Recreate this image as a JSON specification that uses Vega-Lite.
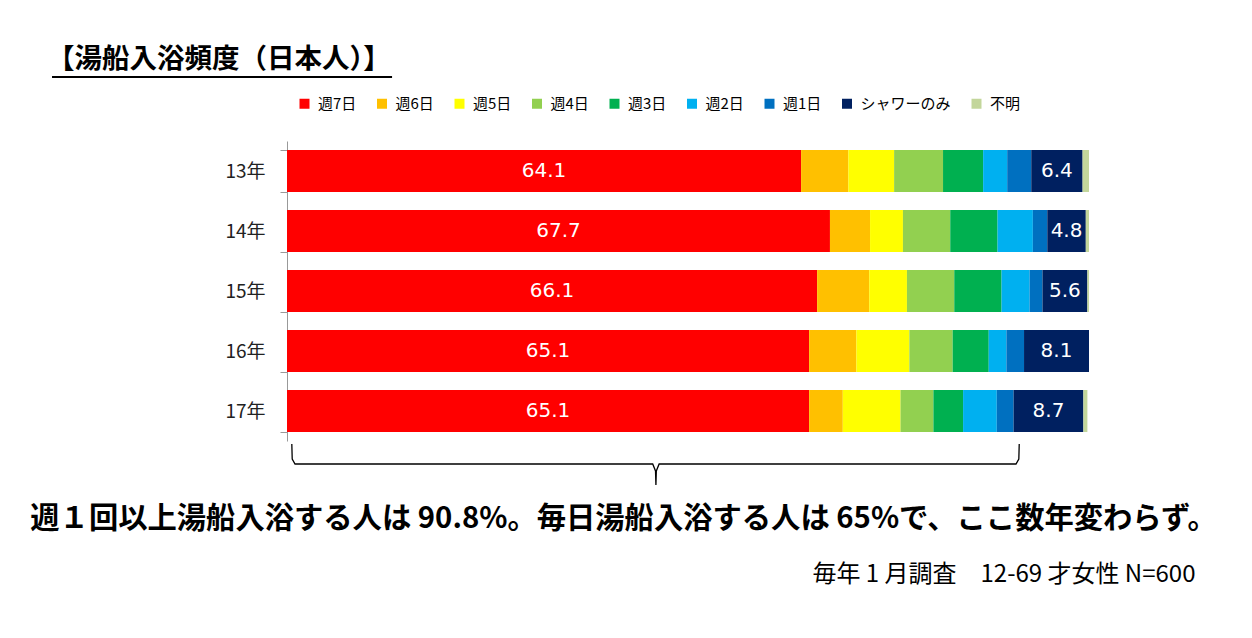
{
  "$schema": "https://vega.github.io/schema/vega-lite/v6.json",
  "width": 802,
  "height": 300,
  "autosize": {"type": "none"},
  "padding": {"left": 287, "top": 141, "right": 163, "bottom": 197},
  "background": "white",
  "config": {
    "view": {"stroke": null},
    "font": "Noto Sans CJK JP"
  },
  "title": {
    "text": "【湯船入浴頻度（日本人）】",
    "anchor": "start",
    "frame": "group",
    "fontSize": 27.5,
    "fontWeight": "bold",
    "color": "#000",
    "font": "Noto Sans CJK JP",
    "dx": -240,
    "dy": 2
  },
  "datasets": {
    "bars": [
      {"y": "13年", "c": "週7日", "k": 1, "v": 64.1},
      {"y": "13年", "c": "週6日", "k": 2, "v": 5.9},
      {"y": "13年", "c": "週5日", "k": 3, "v": 5.7},
      {"y": "13年", "c": "週4日", "k": 4, "v": 6.1},
      {"y": "13年", "c": "週3日", "k": 5, "v": 5.0},
      {"y": "13年", "c": "週2日", "k": 6, "v": 3.0},
      {"y": "13年", "c": "週1日", "k": 7, "v": 3.0},
      {"y": "13年", "c": "シャワーのみ", "k": 8, "v": 6.4},
      {"y": "13年", "c": "不明", "k": 9, "v": 0.8},
      {"y": "14年", "c": "週7日", "k": 1, "v": 67.7},
      {"y": "14年", "c": "週6日", "k": 2, "v": 5.0},
      {"y": "14年", "c": "週5日", "k": 3, "v": 4.1},
      {"y": "14年", "c": "週4日", "k": 4, "v": 5.9},
      {"y": "14年", "c": "週3日", "k": 5, "v": 5.9},
      {"y": "14年", "c": "週2日", "k": 6, "v": 4.4},
      {"y": "14年", "c": "週1日", "k": 7, "v": 1.8},
      {"y": "14年", "c": "シャワーのみ", "k": 8, "v": 4.8},
      {"y": "14年", "c": "不明", "k": 9, "v": 0.4},
      {"y": "15年", "c": "週7日", "k": 1, "v": 66.1},
      {"y": "15年", "c": "週6日", "k": 2, "v": 6.5},
      {"y": "15年", "c": "週5日", "k": 3, "v": 4.7},
      {"y": "15年", "c": "週4日", "k": 4, "v": 5.9},
      {"y": "15年", "c": "週3日", "k": 5, "v": 5.9},
      {"y": "15年", "c": "週2日", "k": 6, "v": 3.5},
      {"y": "15年", "c": "週1日", "k": 7, "v": 1.6},
      {"y": "15年", "c": "シャワーのみ", "k": 8, "v": 5.6},
      {"y": "15年", "c": "不明", "k": 9, "v": 0.2},
      {"y": "16年", "c": "週7日", "k": 1, "v": 65.1},
      {"y": "16年", "c": "週6日", "k": 2, "v": 5.9},
      {"y": "16年", "c": "週5日", "k": 3, "v": 6.6},
      {"y": "16年", "c": "週4日", "k": 4, "v": 5.4},
      {"y": "16年", "c": "週3日", "k": 5, "v": 4.5},
      {"y": "16年", "c": "週2日", "k": 6, "v": 2.2},
      {"y": "16年", "c": "週1日", "k": 7, "v": 2.2},
      {"y": "16年", "c": "シャワーのみ", "k": 8, "v": 8.1},
      {"y": "16年", "c": "不明", "k": 9, "v": 0.0},
      {"y": "17年", "c": "週7日", "k": 1, "v": 65.1},
      {"y": "17年", "c": "週6日", "k": 2, "v": 4.2},
      {"y": "17年", "c": "週5日", "k": 3, "v": 7.2},
      {"y": "17年", "c": "週4日", "k": 4, "v": 4.1},
      {"y": "17年", "c": "週3日", "k": 5, "v": 3.7},
      {"y": "17年", "c": "週2日", "k": 6, "v": 4.2},
      {"y": "17年", "c": "週1日", "k": 7, "v": 2.1},
      {"y": "17年", "c": "シャワーのみ", "k": 8, "v": 8.7},
      {"y": "17年", "c": "不明", "k": 9, "v": 0.5}
    ],
    "brace": [
      {"o": 1, "x": 0.6, "y": 5.05},
      {"o": 2, "x": 0.65, "y": 5.3},
      {"o": 3, "x": 1.0, "y": 5.383},
      {"o": 4, "x": 45.6, "y": 5.383},
      {"o": 5, "x": 45.95, "y": 5.5},
      {"o": 6, "x": 46.0, "y": 5.733},
      {"o": 7, "x": 46.05, "y": 5.5},
      {"o": 8, "x": 46.4, "y": 5.383},
      {"o": 9, "x": 90.9, "y": 5.383},
      {"o": 10, "x": 91.25, "y": 5.3},
      {"o": 11, "x": 91.3, "y": 5.05}
    ],
    "uline": [
      {"x": -29.3, "x2": 13.1, "y": -1.067}
    ]
  },
  "layer": [
    {
      "data": {"name": "bars"},
      "encoding": {
        "y": {
          "field": "y",
          "type": "nominal",
          "sort": ["13年", "14年", "15年", "16年", "17年"],
          "scale": {"paddingInner": 0.3, "paddingOuter": 0.15},
          "axis": {
            "title": null,
            "orient": "left",
            "tickBand": "extent",
            "tickSize": 7,
            "tickColor": "#999",
            "domainColor": "#999",
            "labelFontSize": 19,
            "labelColor": "#222",
            "labelPadding": 15,
            "labelFont": "Noto Sans CJK JP"
          }
        }
      },
      "layer": [
        {
          "mark": {"type": "bar"},
          "encoding": {
            "x": {
              "field": "v",
              "type": "quantitative",
              "stack": "zero",
              "scale": {"domain": [0, 100], "nice": false},
              "axis": {
                "domain": false,
                "ticks": false,
                "labels": false,
                "grid": false,
                "title": "週１回以上湯船入浴する人は 90.8%。毎日湯船入浴する人は 65%で、ここ数年変わらず。",
                "titleX": 336,
                "titleY": 86,
                "titleAlign": "center",
                "titleBaseline": "alphabetic",
                "titleFontSize": 29.3,
                "titleFontWeight": "bold",
                "titleColor": "#000",
                "titleFont": "Noto Sans CJK JP"
              }
            },
            "color": {
              "field": "c",
              "type": "nominal",
              "scale": {
                "domain": ["週7日", "週6日", "週5日", "週4日", "週3日", "週2日", "週1日", "シャワーのみ", "不明"],
                "range": ["#FF0000", "#FFC000", "#FFFF00", "#92D050", "#00B050", "#00B0F0", "#0070C0", "#002060", "#C3D69B"]
              },
              "legend": {
                "orient": "none",
                "legendX": 10,
                "legendY": -45,
                "padding": 0,
                "direction": "horizontal",
                "columns": 9,
                "title": null,
                "symbolType": "square",
                "symbolSize": 100,
                "symbolStrokeWidth": 0,
                "labelFontSize": 15,
                "labelOffset": 6,
                "columnPadding": 17.5,
                "labelColor": "#000",
                "labelFont": "Noto Sans CJK JP"
              }
            },
            "order": {"field": "k", "type": "quantitative"}
          }
        },
        {
          "mark": {"type": "text", "color": "white", "fontSize": 20, "font": "DejaVu Sans", "baseline": "middle", "align": "center"},
          "encoding": {
            "x": {
              "field": "v",
              "type": "quantitative",
              "stack": "zero",
              "bandPosition": 0.5,
              "scale": {"domain": [0, 100], "nice": false}
            },
            "detail": {"field": "c", "type": "nominal"},
            "order": {"field": "k", "type": "quantitative"},
            "text": {
              "condition": {
                "test": "datum.c === '週7日' || datum.c === 'シャワーのみ'",
                "field": "v",
                "type": "quantitative",
                "format": ".1f"
              },
              "value": ""
            }
          }
        }
      ]
    },
    {
      "layer": [
        {
          "data": {"name": "brace"},
          "mark": {"type": "line", "color": "#000", "strokeWidth": 1.3, "clip": false},
          "encoding": {
            "x": {"field": "x", "type": "quantitative", "scale": {"domain": [0, 100], "nice": false}},
            "y": {
              "field": "y",
              "type": "quantitative",
              "scale": {"domain": [0, 5], "reverse": true, "nice": false, "zero": false},
              "axis": {
                "orient": "right",
                "domain": false,
                "ticks": false,
                "labels": false,
                "grid": false,
                "title": "毎年 1 月調査　12-69 才女性 N=600",
                "titleAngle": 0,
                "titleX": 106,
                "titleY": 440,
                "titleAlign": "right",
                "titleBaseline": "alphabetic",
                "titleFontSize": 24,
                "titleFontWeight": "normal",
                "titleColor": "#000",
                "titleFont": "Noto Sans CJK JP"
              }
            },
            "order": {"field": "o", "type": "quantitative"}
          }
        },
        {
          "data": {"name": "uline"},
          "mark": {"type": "rule", "color": "#000", "strokeWidth": 2, "clip": false},
          "encoding": {
            "x": {"field": "x", "type": "quantitative", "scale": {"domain": [0, 100], "nice": false}},
            "x2": {"field": "x2"},
            "y": {"field": "y", "type": "quantitative"}
          }
        }
      ]
    }
  ],
  "resolve": {"scale": {"y": "independent"}}
}
